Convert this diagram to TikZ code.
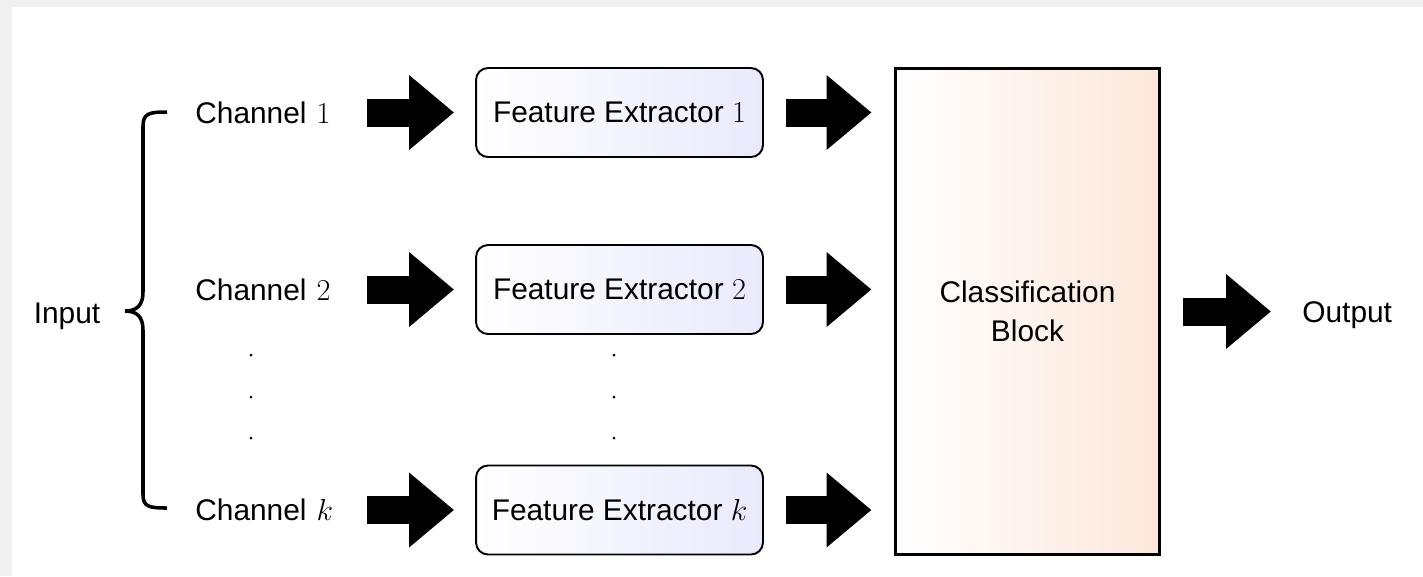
\documentclass[tikz,border=0pt]{standalone}
\usepackage{amsmath}
\usepackage[no-math]{fontspec}
\setmainfont{Liberation Sans}
\usetikzlibrary{arrows.meta}

\definecolor{lavblue}{RGB}{233,233,252}
\definecolor{peach}{RGB}{253,231,219}

\begin{document}
\begin{tikzpicture}[x=0.02cm,y=-0.02cm,font=\fontsize{17}{22}\selectfont,
    fat arrow/.style={-{Triangle[length=0.9cm,width=1.44cm]},line width=0.56cm},
    channel node/.style={anchor=west,inner sep=0pt,text width=3.42cm,align=left},
    extractor node/.style={draw,rounded corners=0.24cm,line width=1.1pt,minimum width=5.74cm,minimum height=1.78cm,left color=white,right color=lavblue},
    block node/.style={draw,line width=1.7pt,minimum width=5.3cm,minimum height=9.74cm,align=center,left color=white,right color=peach}]

  % page with a thin grey edge
  \fill[gray!12] (0,0) rectangle (1423,576);
  \fill[white] (12,7) rectangle (1423,576);
  \useasboundingbox (0,0) rectangle (1423,576);

  \node[anchor=base] (input) at (67,323) {Input};

  \node[channel node] (ch1) at (195,112.5) {Channel $1$};
  \node[channel node] (ch2) at (195,289.5) {Channel $2$};
  \node[channel node] (chk) at (195,510) {Channel $k$};

  \node[extractor node] (fe1) at (619.5,112.5) {Feature Extractor $1$};
  \node[extractor node] (fe2) at (619.5,289.5) {Feature Extractor $2$};
  \node[extractor node] (fek) at (619.5,510) {Feature Extractor $k$};

  \node[block node] (cb) at (1027.5,311.5) {Classification\\Block};
  \node[anchor=base west,inner sep=0pt] (out) at (1302,322) {Output};

  % brace over the channels
  \draw[line width=2pt] (167,112) .. controls (150,112) and (143,113) .. (143,126)
    -- (143,292) .. controls (143,305) and (137,311) .. (125,311)
    .. controls (137,311) and (143,317) .. (143,330)
    -- (143,495) .. controls (143,507) and (150,508) .. (167,508);

  % vertical dots
  \foreach \y in {355,397,438}
    \fill (251,\y) circle (0.03cm) (614,\y) circle (0.03cm);

  \draw[fat arrow,shorten >=0.42cm] (ch1.east) -- (fe1.west);
  \draw[fat arrow,shorten >=0.42cm] (ch2.east) -- (fe2.west);
  \draw[fat arrow,shorten >=0.42cm] (chk.east) -- (fek.west);

  \draw[fat arrow,shorten <=0.44cm,shorten >=0.44cm] (fe1.east) -- (fe1.east -| cb.west);
  \draw[fat arrow,shorten <=0.44cm,shorten >=0.44cm] (fe2.east) -- (fe2.east -| cb.west);
  \draw[fat arrow,shorten <=0.44cm,shorten >=0.44cm] (fek.east) -- (fek.east -| cb.west);

  \draw[fat arrow,shorten <=0.44cm,shorten >=0.62cm] (cb.east) -- (cb.east -| out.west);

\end{tikzpicture}
\end{document}
